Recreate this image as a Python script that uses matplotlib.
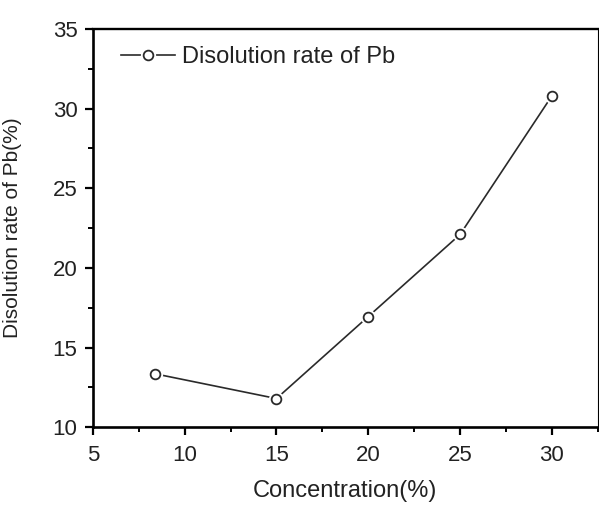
#!/usr/bin/env python3
import matplotlib
matplotlib.use('Agg')
import matplotlib.pyplot as plt
from matplotlib.ticker import MultipleLocator
from matplotlib.legend_handler import HandlerTuple

plt.rcParams['font.family'] = 'Liberation Sans'
plt.rcParams['font.size'] = 16

concentration = [8.4, 15.0, 20.0, 25.0, 30.0]
dissolution_pb = [13.35, 11.8, 16.95, 22.1, 30.8]


def main():
    fig = plt.figure(figsize=(5.99, 5.08), dpi=100)
    ax = fig.add_axes([0.155, 0.159, 0.843, 0.784])

    # line, then white disc to leave a small gap, then the open circle
    line, = ax.plot(concentration, dissolution_pb, color='#2a2a2a', lw=1.2)
    knock, = ax.plot(concentration, dissolution_pb, ls='none', marker='o',
                     ms=11, mfc='white', mec='white', mew=0)
    circ, = ax.plot(concentration, dissolution_pb, ls='none', marker='o',
                    ms=7, mfc='white', mec='#2a2a2a', mew=1.3)

    ax.set_xlim(5, 32.5)
    ax.set_ylim(10, 35)
    ax.xaxis.set_major_locator(MultipleLocator(5))
    ax.xaxis.set_minor_locator(MultipleLocator(2.5))
    ax.yaxis.set_major_locator(MultipleLocator(5))
    ax.yaxis.set_minor_locator(MultipleLocator(2.5))

    ax.tick_params(which='major', direction='out', length=6, width=1.6,
                   labelsize=16, labelcolor='#222222')
    ax.tick_params(which='minor', direction='out', length=3.5, width=1.4)
    ax.tick_params(axis='x', which='major', pad=7)
    ax.tick_params(axis='y', which='major', pad=5)
    ax.tick_params(top=False, right=False, which='both')

    ax.spines['left'].set_linewidth(1.9)
    ax.spines['bottom'].set_linewidth(1.9)
    ax.spines['top'].set_linewidth(1.7)
    ax.spines['right'].set_linewidth(0.8)

    ax.set_xlabel('Concentration(%)', fontsize=17, labelpad=10, color='#222222')
    ax.set_ylabel('Disolution rate of Pb(%)', fontsize=15, labelpad=22, color='#222222')

    ax.legend([(line, knock, circ)], ['Disolution rate of Pb'],
              handler_map={tuple: HandlerTuple(ndivide=1, pad=0)},
              loc='upper left', bbox_to_anchor=(0.055, 0.957),
              frameon=False, borderpad=0, borderaxespad=0,
              handlelength=2.3, handletextpad=0.32, fontsize=17,
              labelcolor='#222222')

    fig.savefig('out.png', dpi=100)


if __name__ == '__main__':
    main()
